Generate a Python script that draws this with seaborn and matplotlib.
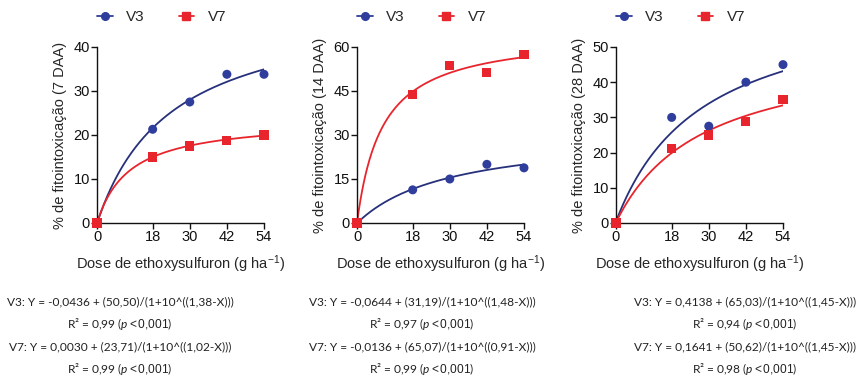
import numpy as np
import pandas as pd
import matplotlib
matplotlib.use("Agg")
import matplotlib.pyplot as plt
import seaborn as sns
from matplotlib.lines import Line2D

# observed data
doses = [0, 18, 30, 42, 54]
v3_7 = [0, 21.3, 27.5, 33.8, 33.8]
v7_7 = [0, 15.0, 17.5, 18.8, 20.0]
v3_14 = [0, 11.3, 15.0, 20.0, 18.8]
v7_14 = [0, 43.8, 53.8, 51.3, 57.5]
v3_28 = [0, 30.0, 27.5, 40.0, 45.0]
v7_28 = [0, 21.2, 25.0, 28.8, 35.0]

# fitted parameters (bottom, top, logEC50) shown under each panel
fit_v3_7 = (-0.0436, 50.50, 1.38)
fit_v7_7 = (0.0030, 23.71, 1.02)
fit_v3_14 = (-0.0644, 31.19, 1.48)
fit_v7_14 = (-0.0136, 65.07, 0.91)
fit_v3_28 = (0.4138, 65.03, 1.45)
fit_v7_28 = (0.1641, 50.62, 1.45)

days = ["7 DAA", "14 DAA", "28 DAA"]
y_ticks = [[0, 10, 20, 30, 40], [0, 15, 30, 45, 60], [0, 10, 20, 30, 40, 50]]
equations = [
    ["V3: Y = -0,0436 + (50,50)/(1+10^((1,38-X)))", "0,99",
     "V7: Y = 0,0030 + (23,71)/(1+10^((1,02-X)))", "0,99"],
    ["V3: Y = -0,0644 + (31,19)/(1+10^((1,48-X)))", "0,97",
     "V7: Y = -0,0136 + (65,07)/(1+10^((0,91-X)))", "0,99"],
    ["V3: Y = 0,4138 + (65,03)/(1+10^((1,45-X)))", "0,94",
     "V7: Y = 0,1641 + (50,62)/(1+10^((1,45-X)))", "0,98"],
]

BLUE = "#2f3d9c"
BLUE_LINE = "#27307a"
RED = "#e8252d"

sns.set_style("ticks")
plt.rcParams["font.family"] = ["Liberation Sans", "DejaVu Sans"]
plt.rcParams["mathtext.fontset"] = "custom"
plt.rcParams["mathtext.rm"] = "Liberation Sans"
plt.rcParams["mathtext.it"] = "Lato:italic"


def curve(p):
    x = np.linspace(0.3, 54, 200)
    y = p[0] + p[1] / (1 + 10 ** (p[2] - np.log10(x)))
    return np.r_[0, x], np.r_[0, y]


fig = plt.figure(figsize=(8.58, 3.88), dpi=100)
lefts = [97, 357, 616]
obs = [(v3_7, v7_7), (v3_14, v7_14), (v3_28, v7_28)]
fits = [(fit_v3_7, fit_v7_7), (fit_v3_14, fit_v7_14), (fit_v3_28, fit_v7_28)]
eq_centers = [120, 422, 745]

for i in range(3):
    ax = fig.add_axes([lefts[i] / 858, 1 - 223 / 388, 167 / 858, 176 / 388])
    for p, col, lc in [(fits[i][0], BLUE, BLUE_LINE), (fits[i][1], RED, RED)]:
        cx, cy = curve(p)
        sns.lineplot(x=cx, y=cy, ax=ax, color=lc, lw=1.3, legend=False)
    df = pd.DataFrame({"dose": doses * 2,
                       "y": obs[i][0] + obs[i][1],
                       "cv": ["V3"] * 5 + ["V7"] * 5})
    sns.scatterplot(data=df, x="dose", y="y", hue="cv", style="cv",
                    markers={"V3": "o", "V7": "s"},
                    palette={"V3": BLUE, "V7": RED},
                    s=42, edgecolor="none", ax=ax, legend=False,
                    clip_on=False, zorder=5)
    ax.set_xlim(0, 54)
    ax.set_ylim(0, y_ticks[i][-1])
    ax.set_xticks(doses)
    ax.set_yticks(y_ticks[i])
    ax.tick_params(labelsize=10.5, length=4, width=1, pad=1, colors="#111111")
    for s in ["left", "bottom"]:
        ax.spines[s].set_linewidth(1)
        ax.spines[s].set_color("#111111")
    sns.despine(ax=ax)
    ax.set_xlabel("Dose de ethoxysulfuron (g ha$^{-1}$)", fontsize=10.5, labelpad=7)
    ax.set_ylabel(f"% de fitointoxicação ({days[i]})", fontsize=10.5, labelpad=5)

    handles = [Line2D([], [], color=BLUE, marker="o", lw=1.3, ms=5.5),
               Line2D([], [], color=RED, marker="s", lw=1.3, ms=5.5)]
    ax.legend(handles, ["V3", "V7"], ncol=2, frameon=False, fontsize=11,
              loc="center left", bbox_to_anchor=(-0.08, 1.17),
              handlelength=1.0, columnspacing=2.2, handletextpad=0.9)

    cx = eq_centers[i] / 858
    eq = equations[i]
    kw = dict(ha="center", va="center", fontsize=8.6, family="Lato", color="#222222")
    fig.text(cx, 1 - 302 / 388, eq[0], **kw)
    fig.text(cx, 1 - 324 / 388, f"R² = {eq[1]} ($\\mathit{{p{{<}}0{{,}}001}}$)", **kw)
    fig.text(cx, 1 - 347 / 388, eq[2], **kw)
    fig.text(cx, 1 - 369 / 388, f"R² = {eq[3]} ($\\mathit{{p{{<}}0{{,}}001}}$)", **kw)

fig.savefig("out.png", dpi=100)
